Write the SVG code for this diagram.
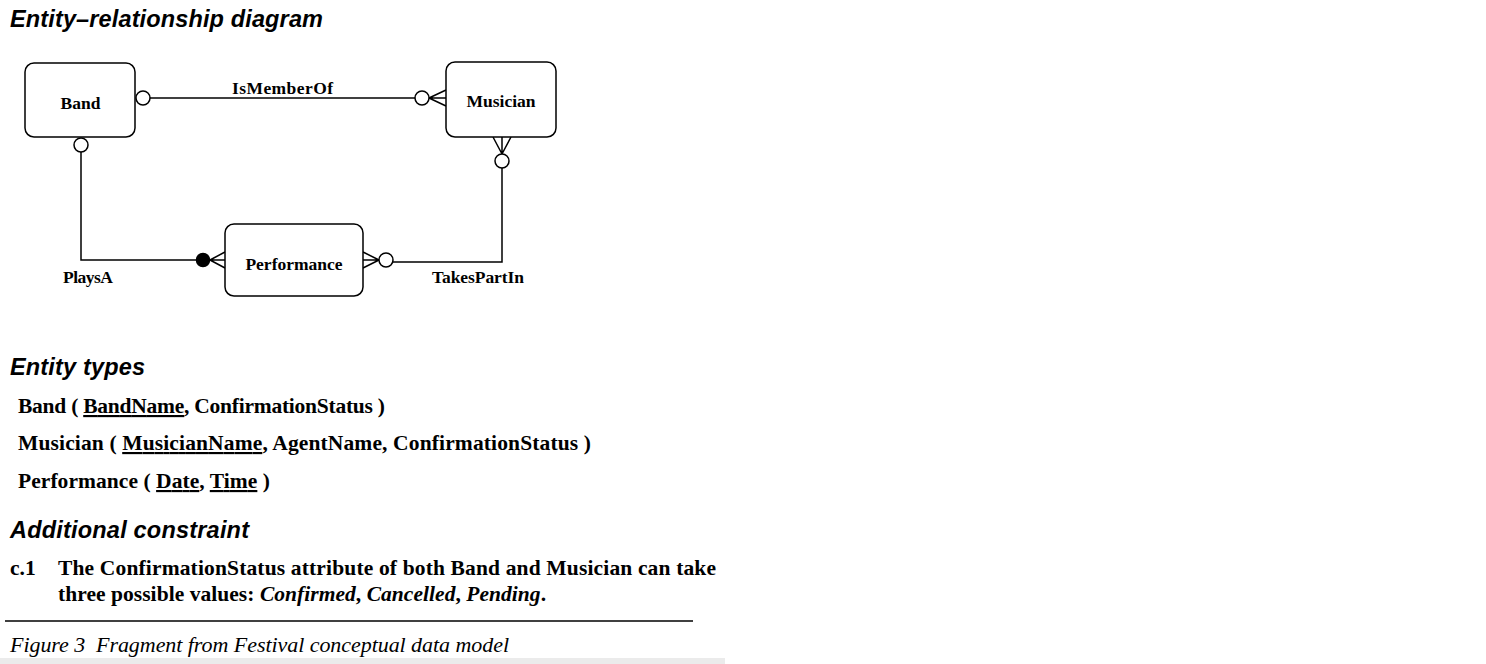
<svg xmlns="http://www.w3.org/2000/svg" width="1486" height="664" viewBox="0 0 1486 664">
<style>
.h{font-family:"Liberation Sans",Arial,sans-serif;font-weight:bold;font-style:italic;font-size:23.5px;fill:#000}
.nl{font-family:"Liberation Serif","Times New Roman",serif;font-weight:bold;font-size:17.5px;fill:#000}
.t{font-family:"Liberation Serif","Times New Roman",serif;font-weight:bold;font-size:21.5px;fill:#000}
.cap{font-family:"Liberation Serif","Times New Roman",serif;font-style:italic;font-size:22px;fill:#000}
.box{fill:#fff;stroke:#000;stroke-width:1.5}
.ln{fill:none;stroke:#000;stroke-width:1.5}
.oc{fill:#fff;stroke:#000;stroke-width:1.5}
.fc{fill:#000;stroke:#000;stroke-width:1.5}
</style>
<rect width="1486" height="664" fill="#fff"/>
<text class="h" x="10" y="27" textLength="313">Entity–relationship diagram</text>
<g id="connectors">
  <line class="ln" x1="150" y1="98" x2="415" y2="98"/>
  <path class="ln" d="M429,98 L446,90 M429,98 L446,98 M429,98 L446,106"/>
  <circle class="oc" cx="422" cy="98" r="7"/>
  <circle class="oc" cx="143" cy="98" r="7"/>
  <polyline class="ln" points="81,152 81,260 196,260"/>
  <circle class="oc" cx="81" cy="145" r="7"/>
  <circle class="fc" cx="203" cy="260" r="6.5"/>
  <path class="ln" d="M210,260 L225,252 M210,260 L225,260 M210,260 L225,268"/>
  <path class="ln" d="M363,252 L379,260 M363,260 L379,260 M363,268 L379,260"/>
  <circle class="oc" cx="386" cy="260" r="7"/>
  <polyline class="ln" points="393,262 502,262 502,168"/>
  <path class="ln" d="M493,137 L502,154 M502,137 L502,154 M511,137 L502,154"/>
  <circle class="oc" cx="502" cy="161" r="7"/>
  <text class="nl" x="232" y="94" textLength="101">IsMemberOf</text>
  <text class="nl" x="63" y="283" textLength="50">PlaysA</text>
  <text class="nl" x="432" y="283" textLength="92">TakesPartIn</text>
</g>
<g id="band">
  <rect class="box" x="25" y="63" width="110" height="74" rx="9"/>
  <text class="nl" x="80.5" y="109" text-anchor="middle">Band</text>
</g>
<g id="musician">
  <rect class="box" x="446" y="62" width="110" height="75" rx="9"/>
  <text class="nl" x="501" y="107" text-anchor="middle">Musician</text>
</g>
<g id="performance">
  <rect class="box" x="225" y="224" width="138" height="72" rx="9"/>
  <text class="nl" x="294" y="270" text-anchor="middle">Performance</text>
</g>
<text class="h" x="10" y="375" textLength="135">Entity types</text>
<text class="t" x="18" y="413" textLength="367">Band ( <tspan text-decoration="underline">BandName</tspan>, ConfirmationStatus )</text>
<text class="t" x="18" y="450" textLength="573">Musician ( <tspan text-decoration="underline">MusicianName</tspan>, AgentName, ConfirmationStatus )</text>
<text class="t" x="18" y="488" textLength="252">Performance ( <tspan text-decoration="underline">Date</tspan>, <tspan text-decoration="underline">Time</tspan> )</text>
<text class="h" x="10" y="538" textLength="239">Additional constraint</text>
<text class="t" x="10" y="575">c.1</text>
<text class="t" x="58" y="575" textLength="658">The ConfirmationStatus attribute of both Band and Musician can take</text>
<text class="t" x="58" y="601" textLength="488">three possible values: <tspan font-style="italic">Confirmed</tspan>, <tspan font-style="italic">Cancelled</tspan>, <tspan font-style="italic">Pending</tspan>.</text>
<line x1="5" y1="621" x2="693" y2="621" stroke="#000" stroke-width="1.5"/>
<text class="cap" x="10" y="652" textLength="499" xml:space="preserve">Figure 3  Fragment from Festival conceptual data model</text>
<rect x="0" y="658" width="725" height="6" fill="#ebebeb"/>
</svg>
